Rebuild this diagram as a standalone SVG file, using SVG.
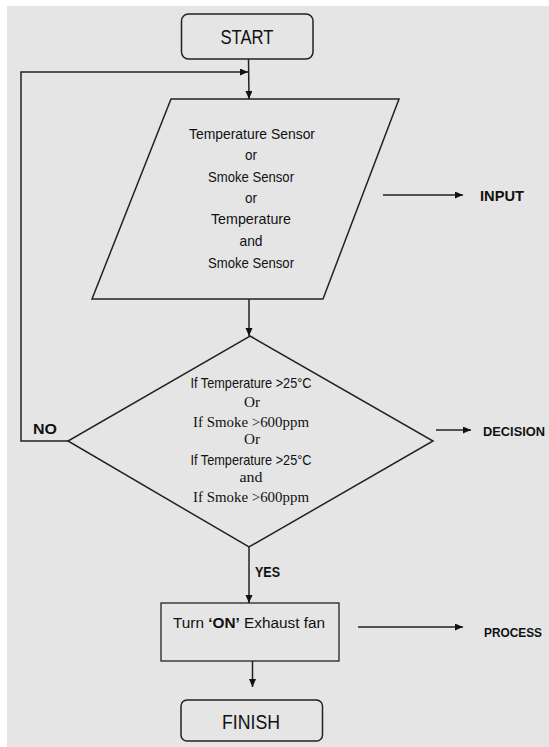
<svg xmlns="http://www.w3.org/2000/svg" width="549" height="747" viewBox="0 0 549 747">
  <defs>
    <marker id="arr" markerUnits="userSpaceOnUse" markerWidth="10" markerHeight="8" refX="8" refY="3.5" orient="auto">
      <path d="M0,0 L8,3.5 L0,7 z" fill="#111"/>
    </marker>
    <style>
      .shape { fill: none; stroke: #222; stroke-width: 1.5; }
      .conn { fill: none; stroke: #222; stroke-width: 1.5; }
      .t { font-family: "Liberation Sans", Arial, sans-serif; fill: #111; text-anchor: middle; }
      .s { font-family: "Liberation Serif", "Times New Roman", serif; fill: #111; text-anchor: middle; }
      .b { font-weight: bold; }
      .lbl { font-family: "Liberation Sans", Arial, sans-serif; font-weight: bold; fill: #111; }
    </style>
  </defs>
  <rect x="0" y="0" width="549" height="747" fill="#ffffff"/>
  <rect x="7" y="6" width="542" height="741" fill="#e5e5e5"/>

  <g id="start">
    <rect class="shape" x="181.5" y="14" width="131.5" height="45" rx="7"/>
    <text class="t" x="247" y="44" font-size="20" textLength="53" lengthAdjust="spacingAndGlyphs">START</text>
  </g>

  <g id="input">
    <polygon class="shape" points="171,99 399,99 323,299 92,299"/>
    <text class="t" x="252" y="139" font-size="14.5" textLength="126" lengthAdjust="spacingAndGlyphs">Temperature Sensor</text>
    <text class="t" x="251" y="160" font-size="14.5" textLength="12" lengthAdjust="spacingAndGlyphs">or</text>
    <text class="t" x="251" y="182" font-size="14.5" textLength="86" lengthAdjust="spacingAndGlyphs">Smoke Sensor</text>
    <text class="t" x="251" y="203" font-size="14.5" textLength="12" lengthAdjust="spacingAndGlyphs">or</text>
    <text class="t" x="251" y="224" font-size="14.5" textLength="80" lengthAdjust="spacingAndGlyphs">Temperature</text>
    <text class="t" x="251" y="246" font-size="14.5" textLength="23" lengthAdjust="spacingAndGlyphs">and</text>
    <text class="t" x="251" y="268" font-size="14.5" textLength="86" lengthAdjust="spacingAndGlyphs">Smoke Sensor</text>
  </g>

  <g id="decision">
    <polygon class="shape" points="250,336 433,441 249,547 68,441"/>
    <text class="t" x="251" y="388" font-size="14.5" textLength="121" lengthAdjust="spacingAndGlyphs">If Temperature &gt;25°C</text>
    <text class="s" x="252" y="407" font-size="15" textLength="16" lengthAdjust="spacingAndGlyphs">Or</text>
    <text class="s" x="251" y="427" font-size="15" textLength="116" lengthAdjust="spacingAndGlyphs">If Smoke &gt;600ppm</text>
    <text class="s" x="252" y="444" font-size="15" textLength="16" lengthAdjust="spacingAndGlyphs">Or</text>
    <text class="t" x="251" y="465" font-size="14.5" textLength="121" lengthAdjust="spacingAndGlyphs">If Temperature &gt;25°C</text>
    <text class="s" x="251" y="482" font-size="15" textLength="23" lengthAdjust="spacingAndGlyphs">and</text>
    <text class="s" x="251" y="502" font-size="15" textLength="116" lengthAdjust="spacingAndGlyphs">If Smoke &gt;600ppm</text>
  </g>

  <g id="process">
    <rect x="161" y="603" width="178" height="58" fill="none" stroke="#222" stroke-width="1.3"/>
    <text class="t" x="249" y="628" font-size="15.5" textLength="152" lengthAdjust="spacingAndGlyphs">Turn <tspan class="b">‘ON’</tspan> Exhaust fan</text>
  </g>

  <g id="finish">
    <rect class="shape" x="181" y="700" width="141.5" height="41" rx="6"/>
    <text class="t" x="251" y="729" font-size="20" textLength="58" lengthAdjust="spacingAndGlyphs">FINISH</text>
  </g>

  <g id="labels">
    <text class="lbl" x="480" y="201" font-size="15" textLength="44" lengthAdjust="spacingAndGlyphs">INPUT</text>
    <text class="lbl" x="483" y="436" font-size="13" textLength="62" lengthAdjust="spacingAndGlyphs">DECISION</text>
    <text class="lbl" x="484" y="637" font-size="13" textLength="58" lengthAdjust="spacingAndGlyphs">PROCESS</text>
    <text class="lbl" x="33" y="434" font-size="14" textLength="24" lengthAdjust="spacingAndGlyphs">NO</text>
    <text class="lbl" x="255" y="577" font-size="14" textLength="25" lengthAdjust="spacingAndGlyphs">YES</text>
  </g>

  <g id="connectors">
    <line class="conn" x1="248.5" y1="59" x2="249" y2="99" marker-end="url(#arr)"/>
    <polyline class="conn" points="68,441 21,441 21,72 248,72" marker-end="url(#arr)"/>
    <line class="conn" x1="249" y1="299" x2="249" y2="336" marker-end="url(#arr)"/>
    <line class="conn" x1="249" y1="547" x2="249" y2="603" marker-end="url(#arr)"/>
    <line class="conn" x1="252.5" y1="661" x2="252.5" y2="687" marker-end="url(#arr)"/>
    <line class="conn" x1="383" y1="195" x2="463" y2="195" marker-end="url(#arr)"/>
    <line class="conn" x1="436" y1="430" x2="471" y2="430" marker-end="url(#arr)"/>
    <line class="conn" x1="358" y1="627" x2="463" y2="627" marker-end="url(#arr)"/>
  </g>
</svg>
